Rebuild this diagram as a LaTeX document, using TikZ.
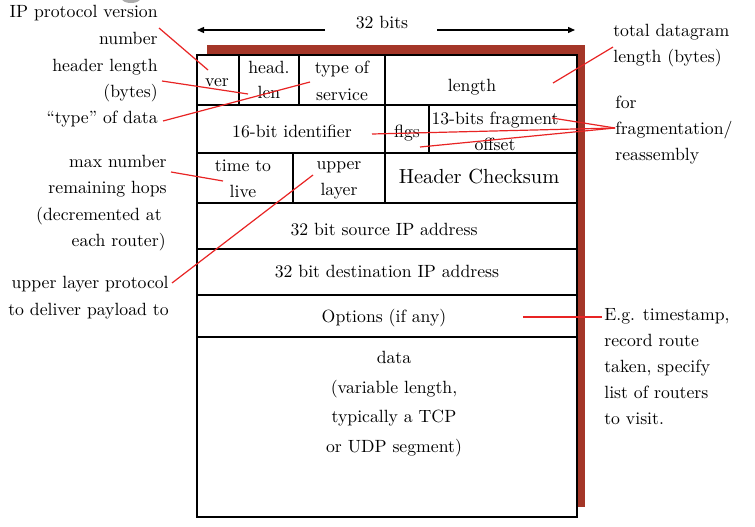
\documentclass[tikz,border=0pt]{standalone}
\usetikzlibrary{arrows.meta}
\definecolor{shadowred}{RGB}{164,54,40}
\definecolor{callred}{RGB}{232,36,36}
\tikzset{
  txt/.style={font=\fontsize{10}{12}\selectfont, scale=1.77, inner sep=0pt, anchor=base},
  lbe/.style={txt, anchor=base east},
  lbw/.style={txt, anchor=base west},
  big/.style={font=\fontsize{10}{12}\selectfont, scale=2.04, inner sep=0pt, anchor=base},
  gridline/.style={draw=black, line width=1.6pt},
  call/.style={draw=callred, line width=1.2pt},
  bitarrow/.style={draw=black, line width=1.3pt, -{Triangle[length=7pt,width=6pt]}}
}
\begin{document}
\begin{tikzpicture}[x=1pt,y=-1pt]
\useasboundingbox (0,0) rectangle (755,527);
\begin{scope}
\clip (0,0) rectangle (755,527);
\fill[gray!65] (131,-1) ellipse [x radius=9, y radius=4];
\end{scope}

% 32 bits
\node[txt] (bits) at (382,29) {32 bits};
\coordinate (bL1) at (325,30); \coordinate (bL2) at (197,30);
\coordinate (bR1) at (437,30); \coordinate (bR2) at (575,30);
\draw[bitarrow] (bL1) -- (bL2);
\draw[bitarrow] (bR1) -- (bR2);

% shadow and box
\fill[shadowred] (207,45) rectangle (585,507);
\filldraw[fill=white, gridline] (197,55) rectangle (577,517);
\draw[gridline] (197,105) -- (577,105);
\draw[gridline] (197,153) -- (577,153);
\draw[gridline] (197,203) -- (577,203);
\draw[gridline] (197,249) -- (577,249);
\draw[gridline] (197,295) -- (577,295);
\draw[gridline] (197,337) -- (577,337);
\draw[gridline] (239,55) -- (239,105);
\draw[gridline] (299,55) -- (299,105);
\draw[gridline] (385,55) -- (385,203);
\draw[gridline] (429,105) -- (429,153);
\draw[gridline] (293,153) -- (293,203);

% cell texts
\node[txt] (ver) at (217,86) {ver};
\node[txt] (head1) at (269,74) {head.};
\node[txt] (head2) at (269,99) {len};
\node[txt] (tos1) at (342,74) {type of};
\node[txt] (tos2) at (342,100) {service};
\node[txt] (len) at (472,92) {length};
\node[txt] (ident) at (292,137) {16-bit identifier};
\node[txt] (flgs) at (407,137) {flgs};
\node[txt] (frag1) at (495,124) {13-bits fragment};
\node[txt] (frag2) at (495,150) {offset};
\node[txt] (ttl1) at (243,171) {time to};
\node[txt] (ttl2) at (243,197) {live};
\node[txt] (up1) at (339,169) {upper};
\node[txt] (up2) at (339,195) {layer};
\node[big] (csum) at (479,183) {Header Checksum};
\node[txt] (src) at (384,235) {32 bit source IP address};
\node[txt] (dst) at (387,277) {32 bit destination IP address};
\node[txt] (opt) at (384,322) {Options (if any)};
\node[txt] (data1) at (394,363) {data};
\node[txt] (data2) at (394,393) {(variable length,};
\node[txt] (data3) at (394,422) {typically a TCP};
\node[txt] (data4) at (394,452) {or UDP segment)};

% left labels
\node[lbe] (ipv1) at (158,18) {IP protocol version};
\node[lbe] (ipv2) at (158,45) {number};
\node[lbe] (hl1) at (158,71) {header length};
\node[lbe] (hl2) at (158,97) {(bytes)};
\node[lbe] (tyd) at (158,123) {“type” of data};
\node[lbe] (mx1) at (167,167) {max number};
\node[lbe] (mx2) at (167,193) {remaining hops};
\node[lbe] (mx3) at (162,220) {(decremented at};
\node[lbe] (mx4) at (166,246) {each router)};
\node[lbe] (ul1) at (169,288) {upper layer protocol};
\node[lbe] (ul2) at (169,315) {to deliver payload to};

% right labels
\node[lbw] (tl1) at (613,37) {total datagram};
\node[lbw] (tl2) at (613,63) {length (bytes)};
\node[lbw] (fr1) at (615,108) {for};
\node[lbw] (fr2) at (615,134) {fragmentation/};
\node[lbw] (fr3) at (615,160) {reassembly};
\node[lbw] (eg1) at (604,320) {E.g. timestamp,};
\node[lbw] (eg2) at (604,346) {record route};
\node[lbw] (eg3) at (604,372) {taken, specify};
\node[lbw] (eg4) at (604,398) {list of routers};
\node[lbw] (eg5) at (604,424) {to visit.};

% connector end points
\coordinate (pIP) at (159,28);   \coordinate (cVer) at (208,70);
\coordinate (pHL) at (162,81);   \coordinate (cHL) at (248,94);
\coordinate (pTy) at (163,121);  \coordinate (cTos) at (310,82);
\coordinate (pTot) at (613,47);  \coordinate (cLen) at (553,83);
\coordinate (pFr) at (615,128);
\coordinate (cId) at (372,134);  \coordinate (cFl) at (420,147);  \coordinate (cOff) at (552,118);
\coordinate (pMx) at (171,172);  \coordinate (cTtl) at (223,181);
\coordinate (pUl) at (172,283);  \coordinate (cUp) at (313,175);
\coordinate (pEg) at (602,317);  \coordinate (cOpt) at (523,317);

\draw[call] (pIP) -- (cVer);
\draw[call] (pHL) -- (cHL);
\draw[call] (pTy) -- (cTos);
\draw[call] (pTot) -- (cLen);
\draw[call] (pFr) -- (cId);
\draw[call] (pFr) -- (cFl);
\draw[call] (pFr) -- (cOff);
\draw[call] (pMx) -- (cTtl);
\draw[call] (pUl) -- (cUp);
\draw[call] (pEg) -- (cOpt);
\end{tikzpicture}
\end{document}
